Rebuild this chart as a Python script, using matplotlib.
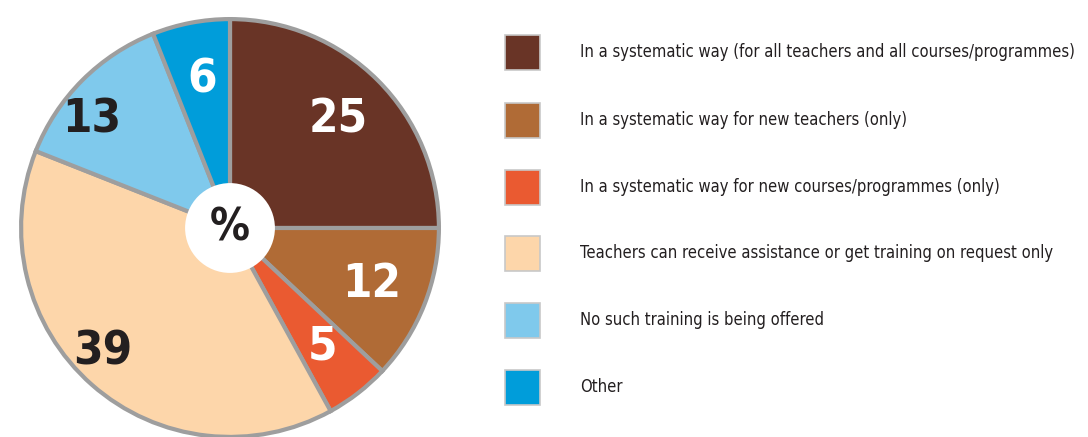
import matplotlib
matplotlib.use("Agg")
import matplotlib.pyplot as plt
from matplotlib.patches import Rectangle, Circle
import numpy as np

labels = [
    "In a systematic way (for all teachers and all courses/programmes)",
    "In a systematic way for new teachers (only)",
    "In a systematic way for new courses/programmes (only)",
    "Teachers can receive assistance or get training on request only",
    "No such training is being offered",
    "Other",
]
values = [25, 12, 5, 39, 13, 6]
colors = ["#693426", "#B06B36", "#EA5A31", "#FDD6AA", "#7FC9EC", "#009DDA"]
text_colors = ["white", "white", "white", "#231F20", "#231F20", "white"]

W, H = 1088, 437
fig = plt.figure(figsize=(W / 100, H / 100), dpi=100)

# pie axes, centre (230, 228) px, radius 211 px
cx, cy, r = 230, 228, 211
ax = fig.add_axes([(cx - r) / W, (H - cy - r) / H, 2 * r / W, 2 * r / H])
wedges, _ = ax.pie(values, colors=colors, startangle=90, counterclock=False,
                   radius=1.0,
                   wedgeprops=dict(edgecolor="#9E9E9E", linewidth=3.0))
ax.set_xlim(-1.01, 1.01)
ax.set_ylim(-1.01, 1.01)
ax.set_aspect("equal")
ax.axis("off")

# value labels (radius and small angle shift per slice)
label_r = [0.73, 0.73, 0.72, 0.85, 0.84, 0.72]
label_shift = [0, 0, 0, -4.5, 7, 0]
start = 90.0
for v, c, lr, sh in zip(values, text_colors, label_r, label_shift):
    mid = start - v * 3.6 / 2 + sh
    start -= v * 3.6
    ang = np.deg2rad(mid)
    ax.text(lr * np.cos(ang), lr * np.sin(ang), str(v), ha="center", va="center",
            color=c, fontsize=34, fontweight="bold",
            family="DejaVu Sans", fontstretch="condensed")

ax.add_patch(Circle((0, 0), 0.215, facecolor="white", edgecolor="none", zorder=5))
ax.text(0, 0.0, "%", ha="center", va="center", fontsize=32, fontweight="bold",
        color="#231F20", family="DejaVu Sans", fontstretch="condensed", zorder=6)

# legend
ys = [52, 120, 187, 253, 320, 387]
for lab, col, y in zip(labels, colors, ys):
    fig.patches.append(Rectangle(((505) / W, (H - y - 17.5) / H), 35 / W, 35 / H,
                                 transform=fig.transFigure, facecolor=col,
                                 edgecolor="#C8C8C8", linewidth=1.2))
    fig.text(580 / W, (H - y) / H, lab, ha="left", va="center", fontsize=11.9,
             family="DejaVu Sans", fontstretch="condensed", color="#231F20")

fig.savefig("out.png", dpi=100)
